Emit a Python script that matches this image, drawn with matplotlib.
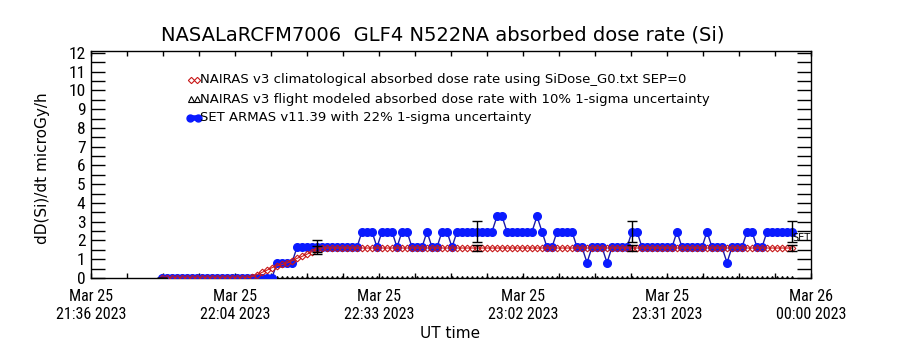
import numpy as np
import pandas as pd
import matplotlib
matplotlib.use('Agg')
import matplotlib.pyplot as plt
from matplotlib.ticker import FixedLocator, FuncFormatter, MultipleLocator
import matplotlib.dates as mdates
from matplotlib import font_manager as fm

# ---------------- data ----------------
t_start = pd.Timestamp('2023-03-25 21:50:12')
times = pd.date_range(t_start, periods=127, freq='60s')

armas = [0.0] * 23 + [0.82] * 4 + [1.64] * 13 + [2.47] * 3 + [1.64] + [2.47] * 3 + [1.64] \
    + [2.47] * 2 + [1.64] * 3 + [2.47] + [1.64] * 2 + [2.47] * 2 + [1.64] + [2.47] * 8 \
    + [3.29] * 2 + [2.47] * 6 + [3.29] + [2.47] + [1.64] * 2 + [2.47] * 4 + [1.64] * 2 \
    + [0.82] + [1.64] * 3 + [0.82] + [1.64] * 4 + [2.47] * 2 + [1.64] * 7 + [2.47] \
    + [1.64] * 5 + [2.47] + [1.64] * 3 + [0.82] + [1.64] * 3 + [2.47] * 2 + [1.64] * 2 \
    + [2.47] * 6

clim = [0.0] * 18 + [0.07, 0.18, 0.30, 0.42, 0.55, 0.65, 0.72, 0.80, 0.92, 1.05,
                     1.15, 1.27, 1.40, 1.55] + [1.60] * 95

flight = [0.0] * 127

err_idx = [0, 31, 63, 94, 126]
armas_unc = 0.22
nairas_unc = 0.10

title = 'NASALaRCFM7006  GLF4 N522NA absorbed dose rate (Si)'
leg_labels = ['NAIRAS v3 climatological absorbed dose rate using SiDose_G0.txt SEP=0',
              'NAIRAS v3 flight modeled absorbed dose rate with 10% 1-sigma uncertainty',
              'SET ARMAS v11.39 with 22% 1-sigma uncertainty']

x_start = pd.Timestamp('2023-03-25 21:36:00')
x_end = pd.Timestamp('2023-03-26 00:00:00')

# ---------------- figure ----------------
armas = np.array(armas)
clim = np.array(clim)
flight = np.array(flight)

# pick a narrow font for tick labels if available
names = {f.name for f in fm.fontManager.ttflist}
narrow = None
for cand in ['Liberation Sans Narrow', 'DejaVu Sans Condensed', 'Roboto Condensed',
             'Open Sans Condensed', 'Noto Sans Condensed']:
    if cand in names:
        narrow = cand
        break
fam = [narrow] if narrow else ['DejaVu Sans']
xtick_fp = fm.FontProperties(family=fam, stretch='condensed', size=11.5)
ytick_fp = fm.FontProperties(family=fam, stretch='condensed', size=12.5)

fig = plt.figure(figsize=(9, 3.5), dpi=100)
ax = fig.add_axes([91 / 900, 1 - 278 / 350, 720 / 900, 227 / 350])

# flight modeled (triangles at 0, clipped)
ax.plot(times, flight, ls='none', marker='^', ms=3, mfc='none', mec='black', mew=0.8, zorder=2)

# ARMAS
ax.plot(times, armas, color='#1a1aa8', lw=1.0, zorder=3)
ax.plot(times, armas, ls='none', marker='o', ms=5.5, color='#0a1aff', zorder=3)

# climatological
ax.plot(times, clim, color='#d02020', lw=0.8, marker='D', ms=3.4, mfc='none',
        mec='#c81818', mew=0.8, zorder=4)

# error bars
et = times[err_idx]
ea = armas[err_idx]
ec = clim[err_idx]
ax.errorbar(et, ea, yerr=armas_unc * ea, fmt='none', ecolor='black', elinewidth=1,
            capsize=3.5, capthick=1, zorder=5)
ax.errorbar(et, ec, yerr=nairas_unc * ec, fmt='none', ecolor='black', elinewidth=1,
            capsize=3.5, capthick=1, zorder=5)

# label near end
ax.text(times[-1], 2.15, 'SET', fontsize=7, ha='left', va='center', family='DejaVu Sans',
        clip_on=False, zorder=6)

ax.set_xlim(x_start, x_end)
ax.set_ylim(0, 12.1)

# x ticks
major_x = [x_start + pd.Timedelta(minutes=28.8 * k) for k in range(6)]
minor_x = [x_start + pd.Timedelta(minutes=7.2 * k) for k in range(21)]
ax.xaxis.set_major_locator(FixedLocator(mdates.date2num(major_x)))
ax.xaxis.set_minor_locator(FixedLocator(mdates.date2num(minor_x)))
ax.xaxis.set_major_formatter(FuncFormatter(
    lambda v, p: mdates.num2date(v).strftime('%b %d\n%H:%M %Y')))

ax.yaxis.set_major_locator(MultipleLocator(0.5))
ax.yaxis.set_major_formatter(FuncFormatter(
    lambda v, p: '%d' % round(v) if abs(v - round(v)) < 1e-6 else ''))

ax.tick_params(axis='x', which='both', direction='in', length=3.6, width=1,
               top=True, bottom=True, pad=8)
ax.tick_params(axis='y', which='both', direction='in', length=10, width=1,
               left=True, right=True, pad=4)
for lab in ax.get_xticklabels():
    lab.set_fontproperties(xtick_fp)
for lab in ax.get_yticklabels():
    lab.set_fontproperties(ytick_fp)

for s in ax.spines.values():
    s.set_linewidth(1)
    s.set_color('black')

# legend (manual)
rows = [80, 99, 118]
def ay(ypx):
    return (278 - ypx) / 227
def axx(xpx):
    return (xpx - 91) / 720

ax.plot([axx(191), axx(196.5)], [ay(rows[0])] * 2, ls='none', marker='D', ms=3.2,
        mfc='none', mec='#c81818', mew=0.8, transform=ax.transAxes, clip_on=False)
ax.plot([axx(191), axx(196.5)], [ay(rows[1])] * 2, ls='none', marker='^', ms=4,
        mfc='none', mec='black', mew=0.8, transform=ax.transAxes, clip_on=False)
ax.plot([axx(190), axx(198)], [ay(rows[2])] * 2, color='#0a1aff', lw=4, marker='o', ms=5,
        transform=ax.transAxes, clip_on=False, solid_capstyle='round')
for r, txt in zip(rows, leg_labels):
    ax.text(axx(200), ay(r), txt, transform=ax.transAxes, fontsize=9.5, ha='left',
            va='center', family='DejaVu Sans')

fig.text(443 / 900, 1 - 35 / 350, title, ha='center', va='center', fontsize=14,
         family='DejaVu Sans')
fig.text(450 / 900, 1 - 333 / 350, 'UT time', ha='center', va='center', fontsize=11,
         family='DejaVu Sans')
fig.text(43 / 900, 1 - 168 / 350, 'dD(Si)/dt microGy/h', ha='center', va='center',
         rotation=90, fontsize=11, family='DejaVu Sans')

fig.savefig('out.png', dpi=100, facecolor='white')
